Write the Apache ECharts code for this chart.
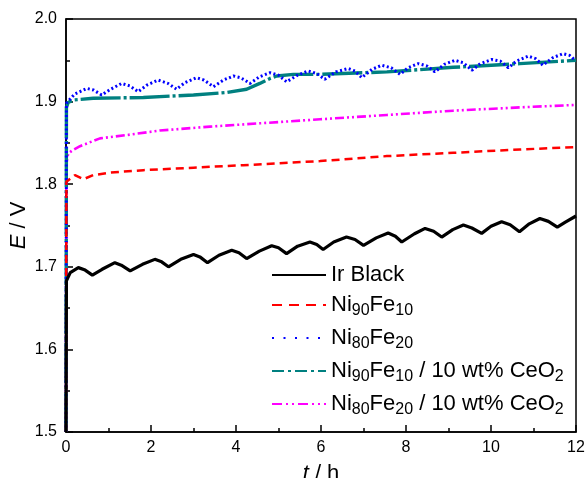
<!DOCTYPE html>
<html>
<head>
<meta charset="utf-8">
<script src="https://cdn.jsdelivr.net/npm/echarts@6/dist/echarts.min.js"></script>
<style>
  html, body { margin: 0; padding: 0; background: #fff; }
  #chart { width: 587px; height: 478px; }
</style>
</head>
<body>
<div id="chart"></div>
<script>
// Cell potential E (V) versus time t (h) for five anode catalysts.
const xTicks = [0, 2, 4, 6, 8, 10, 12];
const yTicks = [1.5, 1.6, 1.7, 1.8, 1.9, 2.0];

const seriesNames = [
  'Ir Black',
  'Ni90Fe10',
  'Ni80Fe20',
  'Ni90Fe10 / 10 wt% CeO2',
  'Ni80Fe20 / 10 wt% CeO2'
];

// [t (h), E (V)]
const irBlack = [
  [0, 1.50], [0.01, 1.683], [0.1, 1.693], [0.29, 1.699], [0.45, 1.696], [0.62, 1.690],
  [0.85, 1.697], [1.15, 1.705], [1.3, 1.702], [1.51, 1.695], [1.8, 1.703], [2.09, 1.709],
  [2.25, 1.706], [2.41, 1.700], [2.7, 1.709], [3.0, 1.715], [3.15, 1.712], [3.33, 1.705],
  [3.6, 1.714], [3.9, 1.720], [4.07, 1.717], [4.25, 1.710], [4.55, 1.719], [4.84, 1.7255],
  [5.0, 1.723], [5.19, 1.716], [5.45, 1.725], [5.74, 1.730], [5.9, 1.727], [6.05, 1.721],
  [6.3, 1.730], [6.6, 1.736], [6.8, 1.733], [7.0, 1.726], [7.3, 1.735], [7.58, 1.741],
  [7.75, 1.737], [7.9, 1.730], [8.2, 1.740], [8.45, 1.7465], [8.65, 1.743], [8.84, 1.736],
  [9.1, 1.745], [9.35, 1.7505], [9.55, 1.747], [9.78, 1.7405], [10.0, 1.749], [10.25, 1.7545],
  [10.45, 1.751], [10.67, 1.7425], [10.9, 1.752], [11.15, 1.7585], [11.35, 1.755], [11.56, 1.748],
  [11.75, 1.754], [12.0, 1.7615]
];

const ni90fe10 = [
  [0, 1.50], [0.01, 1.803], [0.21, 1.811], [0.41, 1.806], [0.64, 1.811], [1.04, 1.814],
  [1.82, 1.817], [3.0, 1.820], [4.17, 1.823], [5.98, 1.828], [7.55, 1.834], [9.11, 1.838],
  [10.68, 1.842], [12.0, 1.845]
];

const ni80fe20 = [
  [0, 1.50], [0.01, 1.898], [0.2, 1.909], [0.49, 1.916], [0.65, 1.914], [0.84, 1.908],
  [1.05, 1.915], [1.31, 1.922], [1.5, 1.919], [1.70, 1.912], [1.9, 1.920], [2.17, 1.926],
  [2.4, 1.922], [2.60, 1.915], [2.8, 1.923], [3.07, 1.929], [3.25, 1.926], [3.47, 1.918],
  [3.7, 1.926], [3.94, 1.931], [4.1, 1.929], [4.21, 1.926], [4.33, 1.922], [4.55, 1.930],
  [4.8, 1.935], [5.0, 1.932], [5.19, 1.924], [5.45, 1.932], [5.70, 1.937], [5.9, 1.934],
  [6.09, 1.927], [6.35, 1.936], [6.64, 1.940], [6.8, 1.937], [6.96, 1.929], [7.2, 1.939],
  [7.43, 1.944], [7.65, 1.941], [7.86, 1.933], [8.05, 1.941], [8.29, 1.946], [8.5, 1.943],
  [8.68, 1.936], [8.9, 1.945], [9.15, 1.950], [9.35, 1.947], [9.55, 1.938], [9.75, 1.946],
  [10.02, 1.951], [10.22, 1.949], [10.41, 1.941], [10.6, 1.949], [10.88, 1.955], [11.05, 1.952],
  [11.22, 1.944], [11.45, 1.953], [11.69, 1.958], [11.85, 1.956], [11.98, 1.950]
];

const ni90fe10CeO2 = [
  [0, 1.50], [0.01, 1.893], [0.05, 1.899], [0.17, 1.902], [0.64, 1.904], [1.82, 1.905],
  [3.0, 1.908], [3.78, 1.911], [4.25, 1.915], [4.56, 1.922], [4.8, 1.928], [4.96, 1.931],
  [5.35, 1.933], [5.98, 1.933], [7.55, 1.936], [9.11, 1.9415], [10.68, 1.946], [12.0, 1.950]
];

const ni80fe20CeO2 = [
  [0, 1.50], [0.01, 1.825], [0.05, 1.837], [0.15, 1.841], [0.33, 1.846], [0.8, 1.8555],
  [1.43, 1.8595], [2.21, 1.865], [3.39, 1.8697], [4.56, 1.8737], [5.98, 1.8786],
  [7.55, 1.8838], [9.11, 1.889], [10.68, 1.893], [12.0, 1.896]
];

const FONT = '"Liberation Sans", Arial, sans-serif';

const styles = [
  { color: '#000000', width: 3.2, type: 'solid', legendType: 'solid' },
  { color: '#ff0000', width: 2.5, type: [8, 5], legendType: [10, 7] },
  { color: '#0000ff', width: 3, type: [2, 2.5], legendType: [2, 9.5] },
  { color: '#008080', width: 3.4, type: [40, 3, 3, 3], legendType: [12, 4, 3, 4] },
  { color: '#ff00ff', width: 2.6, type: [9, 3, 2, 3, 2, 3], legendType: [10, 4, 2, 4, 2, 4] }
];
const dataSets = [irBlack, ni90fe10, ni80fe20, ni90fe10CeO2, ni80fe20CeO2];

// Legend label with chemical subscripts as rich text
const legendLabels = {
  'Ir Black': '{m|Ir Black}',
  'Ni90Fe10': '{m|Ni}{s|90}{m|Fe}{s|10}',
  'Ni80Fe20': '{m|Ni}{s|80}{m|Fe}{s|20}',
  'Ni90Fe10 / 10 wt% CeO2': '{m|Ni}{s|90}{m|Fe}{s|10}{m| / 10 wt% CeO}{s|2}',
  'Ni80Fe20 / 10 wt% CeO2': '{m|Ni}{s|80}{m|Fe}{s|20}{m| / 10 wt% CeO}{s|2}'
};

const axisNameStyle = {
  fontFamily: FONT, fontSize: 22, color: '#000',
  rich: { i: { fontFamily: FONT, fontSize: 22, fontStyle: 'italic', color: '#000' } }
};

const chart = echarts.init(document.getElementById('chart'), null, { renderer: 'canvas' });

chart.setOption({
  animation: false,
  backgroundColor: '#ffffff',
  grid: {
    left: 66, right: 11, top: 19, bottom: 46,
    containLabel: false,
    outerBoundsMode: 'none',
    show: true, borderColor: '#000', borderWidth: 1.5, backgroundColor: 'transparent'
  },
  xAxis: {
    type: 'value',
    min: xTicks[0], max: xTicks[xTicks.length - 1], interval: 2,
    name: '{i|t} / h',
    nameLocation: 'middle', nameGap: 31,
    nameMoveOverlap: false,
    nameTextStyle: axisNameStyle,
    axisLine: { show: true, lineStyle: { color: '#000', width: 1.5 } },
    axisTick: { show: true, inside: true, length: 7, lineStyle: { color: '#000', width: 1.5 } },
    minorTick: { show: true, splitNumber: 2, length: 4, lineStyle: { color: '#000', width: 1.5 } },
    axisLabel: { fontFamily: FONT, fontSize: 16, color: '#000', margin: 8 },
    splitLine: { show: false }
  },
  yAxis: {
    type: 'value',
    min: yTicks[0], max: yTicks[yTicks.length - 1], interval: 0.1,
    name: '{i|E} / V',
    nameLocation: 'middle', nameGap: 36,
    nameMoveOverlap: false,
    nameTextStyle: axisNameStyle,
    axisLine: { show: true, lineStyle: { color: '#000', width: 1.5 } },
    axisTick: { show: true, inside: true, length: 7, lineStyle: { color: '#000', width: 1.5 } },
    minorTick: { show: true, splitNumber: 2, length: 4, lineStyle: { color: '#000', width: 1.5 } },
    axisLabel: {
      fontFamily: FONT, fontSize: 16, color: '#000', margin: 9,
      formatter: v => v.toFixed(1)
    },
    splitLine: { show: false }
  },
  legend: {
    data: seriesNames.map((name, i) => ({
      name: name,
      itemStyle: { opacity: 0, color: 'transparent', borderColor: 'transparent', borderWidth: 0 },
      lineStyle: { width: 2, color: styles[i].color, type: styles[i].legendType, opacity: 1 }
    })),
    orient: 'vertical',
    left: 271,
    top: 264,
    padding: 0,
    itemGap: 8,
    itemWidth: 54,
    itemHeight: 14,
    selectedMode: false,
    formatter: n => legendLabels[n],
    textStyle: {
      fontFamily: FONT, color: '#000',
      rich: {
        m: { fontFamily: FONT, fontSize: 22, lineHeight: 28, color: '#000', verticalAlign: 'middle' },
        s: { fontFamily: FONT, fontSize: 16, lineHeight: 14, color: '#000', verticalAlign: 'bottom' }
      }
    }
  },
  series: seriesNames.map((name, i) => ({
    name: name,
    type: 'line',
    data: dataSets[i],
    symbol: 'none',
    showSymbol: false,
    clip: true,
    z: 10 - i,
    lineStyle: { color: styles[i].color, width: styles[i].width, type: styles[i].type },
    itemStyle: { color: styles[i].color }
  }))
});
</script>
</body>
</html>
